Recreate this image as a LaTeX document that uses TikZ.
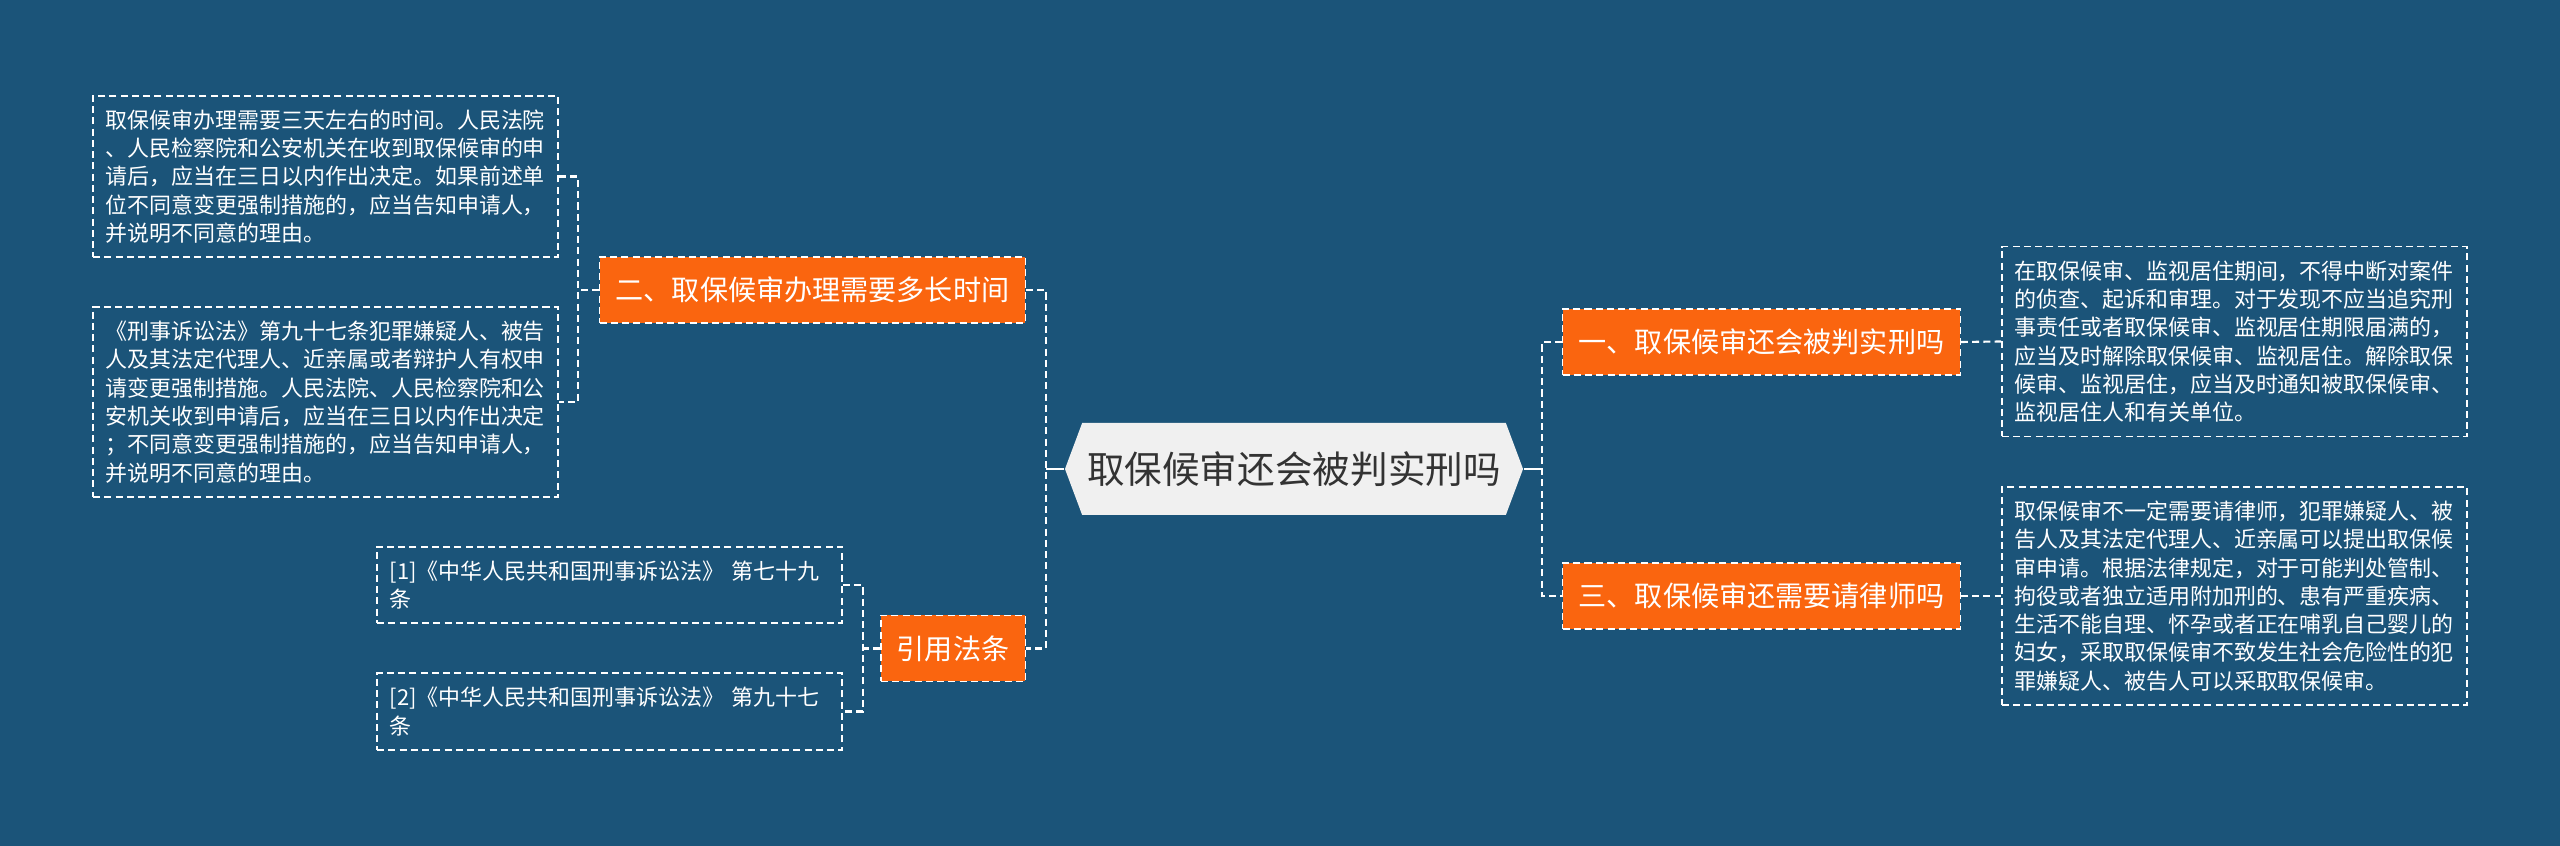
\documentclass[tikz,border=0pt]{standalone}
\usepackage{fontspec}
\setmainfont{Noto Sans CJK SC}
\usepackage{xcolor}
\usetikzlibrary{shapes,arrows.meta,positioning,calc}

\definecolor{bgblue}{HTML}{1B5479}
\definecolor{topicorange}{HTML}{FA650F}
\definecolor{rootgray}{HTML}{F0F0F0}
\definecolor{rootink}{HTML}{333333}

\begin{document}
\begin{tikzpicture}[
  root/.style={signal,signal to=west and east,signal pointer angle=139,fill=rootgray,text=rootink,minimum height=0.92cm,inner xsep=0.05cm,font=\fontsize{10.7pt}{12pt}\selectfont},
  topic/.style={draw=white,line width=0.4pt,dash pattern=on 2pt off 1.2pt,fill=topicorange,text=white,minimum height=0.66cm,inner xsep=0.16cm,font=\fontsize{8pt}{10pt}\selectfont},
  leaf/.style={draw=white,line width=0.5pt,dash pattern=on 2pt off 1.2pt,text=white,text width=4.4cm,align=left,inner xsep=0.125cm,inner ysep=0.14cm,font=\fontsize{6.25pt}{8.05pt}\selectfont},
  link/.style={draw=white,line width=0.6pt,dash pattern=on 2pt off 1.2pt},
  stem/.style={draw=white,line width=0.8pt},
]
  \fill[bgblue] (0,0) rectangle (25.6,8.46);
  \useasboundingbox (0,0) rectangle (25.6,8.46);

  % centre
  \node[root] (root) at (12.94,3.77) {取保候审还会被判实刑吗};

  % left topics
  \node[topic,anchor=east] (howlong) at (10.26,5.56) {二、取保候审办理需要多长时间};
  \node[topic,anchor=east] (cite)    at (10.26,1.975) {引用法条};

  % right topics
  \node[topic,anchor=west] (sentence) at (15.62,5.04) {一、取保候审还会被判实刑吗};
  \node[topic,anchor=west] (lawyer)   at (15.62,2.50) {三、取保候审还需要请律师吗};

  % left leaves
  \node[leaf,anchor=east] (timeA) at (5.59,6.695) {取保候审办理需要三天左右的时间。人民法院\\、人民检察院和公安机关在收到取保候审的申\\请后，应当在三日以内作出决定。如果前述单\\位不同意变更强制措施的，应当告知申请人，\\并说明不同意的理由。};
  \node[leaf,anchor=east] (timeB) at (5.59,4.44) {《刑事诉讼法》第九十七条犯罪嫌疑人、被告\\人及其法定代理人、近亲属或者辩护人有权申\\请变更强制措施。人民法院、人民检察院和公\\安机关收到申请后，应当在三日以内作出决定\\；不同意变更强制措施的，应当告知申请人，\\并说明不同意的理由。};
  \node[leaf,anchor=east] (refA)  at (8.43,2.61) {[1]《中华人民共和国刑事诉讼法》 第七十九\\条};
  \node[leaf,anchor=east] (refB)  at (8.43,1.345) {[2]《中华人民共和国刑事诉讼法》 第九十七\\条};

  % right leaves
  \node[leaf,anchor=west] (sentenceA) at (20.01,5.045) {在取保候审、监视居住期间，不得中断对案件\\的侦查、起诉和审理。对于发现不应当追究刑\\事责任或者取保候审、监视居住期限届满的，\\应当及时解除取保候审、监视居住。解除取保\\候审、监视居住，应当及时通知被取保候审、\\监视居住人和有关单位。};
  \node[leaf,anchor=west] (lawyerA)   at (20.01,2.50) {取保候审不一定需要请律师，犯罪嫌疑人、被\\告人及其法定代理人、近亲属可以提出取保候\\审申请。根据法律规定，对于可能判处管制、\\拘役或者独立适用附加刑的、患有严重疾病、\\生活不能自理、怀孕或者正在哺乳自己婴儿的\\妇女，采取取保候审不致发生社会危险性的犯\\罪嫌疑人、被告人可以采取取保候审。};

  % spines
  \coordinate (lspine) at (10.46,0);
  \coordinate (tspine) at (5.78,0);
  \coordinate (cspine) at (8.63,0);
  \coordinate (rspine) at (15.42,0);

  \draw[stem] (root.west) -- (root.west -| lspine);
  \draw[stem] (root.east) -- (root.east -| rspine);
  \draw[link] (howlong.east) -| (lspine |- cite) -- (cite.east);
  \draw[link] (sentence.west) -| (rspine |- lawyer) -- (lawyer.west);

  \draw[link] (howlong.west) -- (howlong.west -| tspine);
  \draw[link] (timeA.east) -| (tspine |- timeB) -- (timeB.east);
  \draw[link] (cite.west) -- (cite.west -| cspine);
  \draw[link] (refA.east) -| (cspine |- refB) -- (refB.east);
  \draw[link] (sentence.east) -- (sentenceA.west);
  \draw[link] (lawyer.east) -- (lawyerA.west);
\end{tikzpicture}
\end{document}
